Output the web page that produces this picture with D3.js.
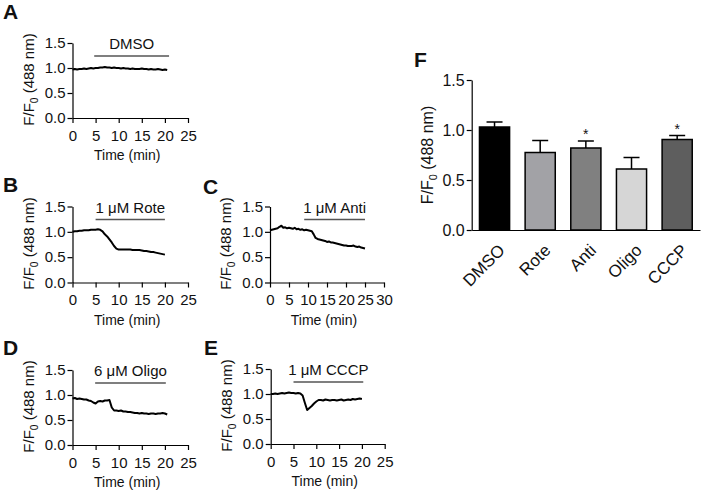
<!DOCTYPE html>
<html><head><meta charset="utf-8">
<script src="https://cdn.jsdelivr.net/npm/d3@7"></script>
<style>
body{margin:0;background:#fff}
svg{display:block}
text{font-family:"Liberation Sans",Arial,Helvetica,sans-serif;fill:#111}
</style>
</head><body>
<svg id="c" width="705" height="494"></svg>
<script>
// ---------- DATA ----------
const timeA = [0,0.5,1,1.5,2,2.5,3,3.5,4,4.5,5,5.5,6,6.5,7,7.5,8,8.5,9,9.5,10,10.5,11,11.5,12,12.5,13,13.5,14,14.5,15,15.5,16,16.5,17,17.5,18,18.5,19,19.5,20,20.5];
const valsA = [0.97,0.98,0.97,0.98,0.98,0.99,0.98,0.99,1.00,0.99,1.00,1.00,1.01,1.01,1.02,1.01,1.01,1.00,1.01,1.00,1.00,0.99,1.00,0.99,0.99,0.98,0.99,0.98,0.98,0.98,0.99,0.98,0.98,0.97,0.98,0.97,0.97,0.98,0.97,0.96,0.97,0.96];

const timeB = [0,0.5,1,1.5,2,2.5,3,3.5,4,4.5,5,5.5,6,6.5,7,7.5,8,8.5,9,9.5,10,10.5,11,11.5,12,12.5,13,13.5,14,14.5,15,15.5,16,16.5,17,17.5,18,18.5,19,19.5,20];
const valsB = [1.00,1.01,1.01,1.02,1.02,1.03,1.03,1.03,1.04,1.04,1.04,1.05,1.04,1.01,0.95,0.91,0.85,0.79,0.72,0.67,0.65,0.65,0.65,0.65,0.65,0.65,0.64,0.64,0.64,0.64,0.63,0.62,0.62,0.61,0.60,0.60,0.59,0.58,0.57,0.56,0.55];

const timeC = [0,0.5,1,1.5,2,2.5,3,3.5,4,4.5,5,5.5,6,6.5,7,7.5,8,8.5,9,9.5,10,10.5,11,11.5,12,12.5,13,13.5,14,14.5,15,15.5,16,16.5,17,17.5,18,18.5,19,19.5,20,20.5,21,21.5,22,22.5,23,23.5,24,24.5,25];
const valsC = [1.03,1.04,1.05,1.06,1.07,1.10,1.12,1.08,1.09,1.07,1.08,1.07,1.06,1.08,1.05,1.06,1.04,1.05,1.03,1.04,1.03,1.02,1.01,0.95,0.88,0.86,0.85,0.84,0.83,0.82,0.80,0.81,0.79,0.79,0.78,0.77,0.76,0.75,0.74,0.73,0.73,0.72,0.72,0.72,0.73,0.71,0.70,0.71,0.69,0.68,0.67];

const timeD = [0,0.5,1,1.5,2,2.5,3,3.5,4,4.5,5,5.5,6,6.5,7,7.5,8,8.5,9,9.5,10,10.5,11,11.5,12,12.5,13,13.5,14,14.5,15,15.5,16,16.5,17,17.5,18,18.5,19,19.5,20,20.5];
const valsD = [0.93,0.94,0.92,0.93,0.92,0.91,0.91,0.89,0.88,0.85,0.83,0.87,0.88,0.87,0.89,0.89,0.90,0.75,0.69,0.69,0.68,0.69,0.67,0.67,0.66,0.66,0.65,0.64,0.64,0.63,0.64,0.63,0.63,0.62,0.63,0.63,0.62,0.63,0.63,0.64,0.63,0.61];

const timeE = [0,0.5,1,1.5,2,2.5,3,3.5,4,4.5,5,5.5,6,6.5,7,7.5,8,8.5,9,9.5,10,10.5,11,11.5,12,12.5,13,13.5,14,14.5,15,15.5,16,16.5,17,17.5,18,18.5,19,19.5,20];
const valsE = [1.00,1.00,1.01,1.00,1.01,1.02,1.01,1.02,1.03,1.02,1.02,1.01,1.02,1.01,0.97,0.82,0.68,0.72,0.76,0.81,0.85,0.88,0.88,0.87,0.89,0.88,0.87,0.88,0.88,0.87,0.88,0.89,0.87,0.88,0.89,0.88,0.90,0.89,0.90,0.91,0.90];

const treatLabels = ["DMSO","1 \u03bcM Rote","1 \u03bcM Anti","6 \u03bcM Oligo","1 \u03bcM CCCP"];
const treatStart  = [4.7, 5, 9, 4.9, 5];
const treatEnd    = [20.9, 20, 25, 20.2, 20.3];

const yTicksSmall = [0, 0.5, 1.0, 1.5];
const xTicks25 = [0,5,10,15,20,25];
const xTicks30 = [0,5,10,15,20,25,30];

const barCategories = ["DMSO","Rote","Anti","Oligo","CCCP"];
const barMeans = [1.03, 0.775, 0.82, 0.61, 0.905];
const barSems  = [0.05, 0.12, 0.07, 0.115, 0.04];
const barSig   = [false, false, true, false, true];
const barColors = ["#000000","#a2a2a6","#808080","#d6d6d6","#5e5e5e"];
const yTicksF = [0, 0.5, 1.0, 1.5];

// ---------- DRAW ----------
const svg = d3.select("#c");
const FONT = '"Liberation Sans",Arial,Helvetica,sans-serif';

function styleAxis(g, size){
  g.attr("font-family", FONT).attr("font-size", size);
  g.selectAll("path,line").attr("stroke","#000").attr("stroke-width",1.2);
  g.selectAll("text").attr("fill","#111");
}

function yTitle(x, y, size){
  const t = svg.append("text")
    .attr("transform", `translate(${x},${y}) rotate(-90)`)
    .attr("text-anchor","middle")
    .attr("font-size", size);
  t.append("tspan").text("F/F");
  t.append("tspan").attr("font-size", size*0.68).attr("dy", size*0.28).text("0");
  t.append("tspan").attr("dy", -size*0.28).text(" (488 nm)");
}

function tracePanel(o){
  const x = d3.scaleLinear().domain([0, o.xMax]).range([o.x0, o.x1]);
  const y = d3.scaleLinear().domain([0, 1.5]).range([o.yb, o.yt]);
  const gy = svg.append("g").attr("transform",`translate(${o.x0},0)`)
    .call(d3.axisLeft(y).tickValues(yTicksSmall).tickFormat(d3.format(".1f"))
      .tickSize(5).tickSizeOuter(0).tickPadding(2));
  styleAxis(gy, 15);
  const gx = svg.append("g").attr("transform",`translate(0,${o.yb})`)
    .call(d3.axisBottom(x).tickValues(o.xTicks).tickFormat(d3.format("d"))
      .tickSize(5).tickSizeOuter(0).tickPadding(7));
  styleAxis(gx, 15);
  svg.append("path")
    .datum(o.time.map((t,i)=>[t,o.vals[i]]))
    .attr("fill","none").attr("stroke","#000").attr("stroke-width",2)
    .attr("stroke-linejoin","round")
    .attr("d", d3.line().x(d=>x(d[0])).y(d=>y(d[1])));
  const by = o.yt + 13;
  svg.append("line")
    .attr("x1", x(treatStart[o.i])).attr("x2", x(treatEnd[o.i]))
    .attr("y1", by).attr("y2", by)
    .attr("stroke","#555").attr("stroke-width",1.6);
  svg.append("text")
    .attr("x", (x(treatStart[o.i]) + x(treatEnd[o.i]))/2).attr("y", by - 7)
    .attr("text-anchor","middle").attr("font-size",15).text(treatLabels[o.i]);
  svg.append("text")
    .attr("x", (o.x0 + o.x1)/2 - 3).attr("y", o.yb + 42)
    .attr("text-anchor","middle").attr("font-size",14).text("Time (min)");
  yTitle(o.x0 - 39, (o.yb + o.yt)/2 - 1, 15);
  svg.append("text").attr("x", o.lx).attr("y", o.ly)
    .attr("font-size",21).attr("font-weight","bold").text(o.letter);
}

tracePanel({i:0, letter:"A", lx:3, ly:19, x0:72.5, x1:188, xMax:25, xTicks:xTicks25, yb:118, yt:43, time:timeA, vals:valsA});
tracePanel({i:1, letter:"B", lx:3, ly:192, x0:72.5, x1:188, xMax:25, xTicks:xTicks25, yb:282.5, yt:206.5, time:timeB, vals:valsB});
tracePanel({i:2, letter:"C", lx:203, ly:194, x0:270, x1:384, xMax:30, xTicks:xTicks30, yb:282.5, yt:206.5, time:timeC, vals:valsC});
tracePanel({i:3, letter:"D", lx:3, ly:355, x0:72.5, x1:188, xMax:25, xTicks:xTicks25, yb:445, yt:370, time:timeD, vals:valsD});
tracePanel({i:4, letter:"E", lx:204, ly:355, x0:270.7, x1:384.7, xMax:25, xTicks:xTicks25, yb:444, yt:369, time:timeE, vals:valsE});

// ---------- Panel F (bar chart) ----------
(function(){
  const fx0 = 471.7, fx1 = 700, fyb = 230, fyt = 80;
  const x = d3.scaleBand().domain(barCategories).range([fx0, fx1]).paddingInner(0.34).paddingOuter(0.17);
  const y = d3.scaleLinear().domain([0, 1.5]).range([fyb, fyt]);
  const data = barCategories.map((c,i)=>({c, m:barMeans[i], s:barSems[i], sig:barSig[i], col:barColors[i]}));

  const eb = svg.append("g");
  data.forEach(d=>{
    const cx = x(d.c) + x.bandwidth()/2;
    eb.append("line").attr("x1",cx).attr("x2",cx).attr("y1",y(d.m)).attr("y2",y(d.m+d.s))
      .attr("stroke","#000").attr("stroke-width",1.5);
    eb.append("line").attr("x1",cx-8).attr("x2",cx+8).attr("y1",y(d.m+d.s)).attr("y2",y(d.m+d.s))
      .attr("stroke","#000").attr("stroke-width",1.5);
  });
  svg.append("g").selectAll("rect").data(data).join("rect")
    .attr("x", d=>x(d.c)).attr("width", x.bandwidth())
    .attr("y", d=>y(d.m)).attr("height", d=>fyb - y(d.m))
    .attr("fill", d=>d.col).attr("stroke","#000").attr("stroke-width",1.5);
  svg.append("g").selectAll("text").data(data.filter(d=>d.sig)).join("text")
    .attr("x", d=>x(d.c)+x.bandwidth()/2).attr("y", d=>y(d.m+d.s)-2)
    .attr("text-anchor","middle").attr("font-size",14).text("*");

  const gy = svg.append("g").attr("transform",`translate(${fx0},0)`)
    .call(d3.axisLeft(y).tickValues(yTicksF).tickFormat(d3.format(".1f"))
      .tickSize(5).tickSizeOuter(0).tickPadding(2));
  styleAxis(gy, 16);
  const gx = svg.append("g").attr("transform",`translate(0,${fyb})`)
    .call(d3.axisBottom(x).tickSize(0).tickSizeOuter(0).tickFormat(""));
  styleAxis(gx, 16);

  svg.append("g").selectAll("text").data(barCategories).join("text")
    .attr("transform", c=>`translate(${x(c)+x.bandwidth()/2+3},${fyb+13}) rotate(-45)`)
    .attr("text-anchor","end").attr("dy","0.7em").attr("font-size",17).text(c=>c);

  yTitle(fx0 - 39, (fyb+fyt)/2, 16);
  svg.append("text").attr("x",414).attr("y",67).attr("font-size",21).attr("font-weight","bold").text("F");
})();
</script>
</body></html>
